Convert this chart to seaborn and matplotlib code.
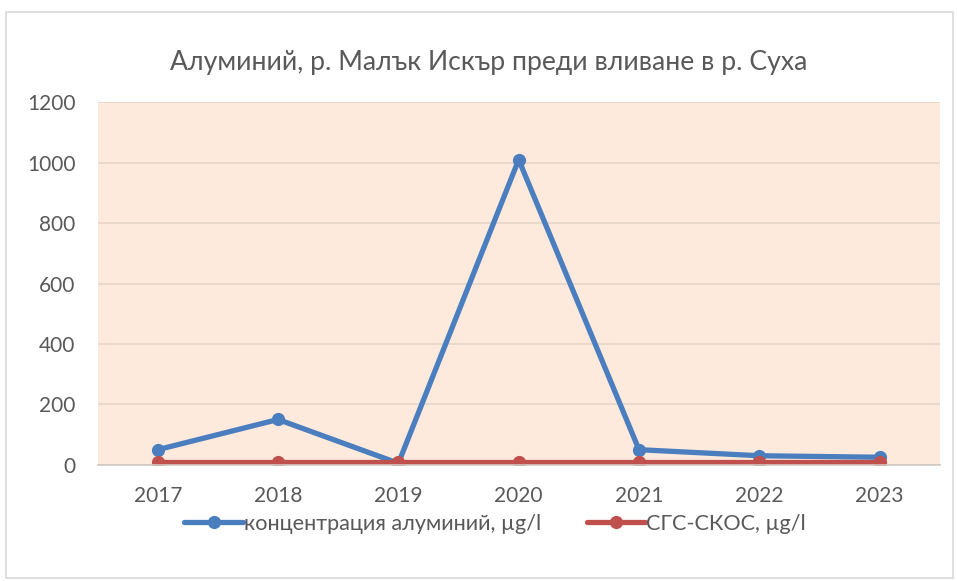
import matplotlib
matplotlib.use("Agg")
import matplotlib.pyplot as plt
import seaborn as sns
import pandas as pd
from matplotlib.patches import Rectangle

years = ["2017", "2018", "2019", "2020", "2021", "2022", "2023"]
aluminium = [50, 150, 5, 1010, 50, 30, 25]
eqs_limit = [10, 10, 10, 10, 10, 10, 10]
series_names = ["концентрация алуминий, µg/l", "СГС-СКОС, µg/l"]
y_ticks = [0, 200, 400, 600, 800, 1000, 1200]

df = pd.DataFrame({
    "year": years * 2,
    "value": aluminium + eqs_limit,
    "series": [series_names[0]] * len(years) + [series_names[1]] * len(years),
})

sns.set_theme(style="white")
plt.rcParams["font.family"] = ["Lato", "DejaVu Sans"]

fig = plt.figure(figsize=(9.57, 5.81), dpi=100)
fig.patches.append(Rectangle((0.006, 0.006), 0.99, 0.973, transform=fig.transFigure,
                             fill=False, edgecolor="#d9d9d9", linewidth=1.2))
ax = fig.add_axes([0.102, 0.2, 0.88, 0.624])
ax.set_facecolor("#fdeadd")

palette = {series_names[0]: "#4a7ebf", series_names[1]: "#c0504d"}
sns.lineplot(data=df, x="year", y="value", hue="series", palette=palette, ax=ax,
             marker="o", markersize=9.5, linewidth=3.8, markeredgewidth=0,
             sort=False, legend=True)

ax.set_xlim(-0.5, len(years) - 0.5)
ax.set_ylim(0, 1200)
ax.set_yticks(y_ticks)
ax.yaxis.grid(True, color="#e6d6ca", linewidth=1.2)
ax.set_axisbelow(True)
for side in ["top", "right", "left"]:
    ax.spines[side].set_visible(False)
ax.spines["bottom"].set_color("#d0c8c2")
ax.spines["bottom"].set_linewidth(1.2)
ax.tick_params(axis="both", length=0, labelsize=15, colors="#595959")
ax.tick_params(axis="y", pad=16)
ax.tick_params(axis="x", pad=15)
ax.set_xlabel("")
ax.set_ylabel("")

fig.text(0.511, 0.893, "Алуминий, р. Малък Искър преди вливане в р. Суха",
         ha="center", va="center", fontsize=19.2, color="#595959")

handles, labels = ax.get_legend_handles_labels()
leg = ax.legend(handles, labels, loc="center", bbox_to_anchor=(0.472, -0.162), ncol=2,
                frameon=False, fontsize=15.6, labelcolor="#595959", handlelength=2.7,
                handletextpad=0.05, columnspacing=2.1, borderpad=0)

fig.savefig("out.png", dpi=100, facecolor="white")
